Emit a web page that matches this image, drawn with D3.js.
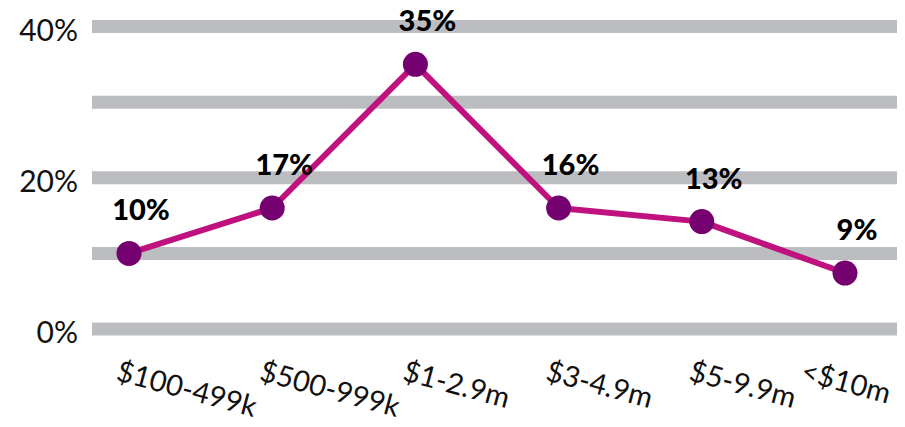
<!DOCTYPE html>
<html>
<head>
<meta charset="utf-8">
<script src="https://cdn.jsdelivr.net/npm/d3@7"></script>
<style>
  body { margin: 0; background: #fff; }
  svg { font-family: Lato, "Open Sans", sans-serif; }
</style>
</head>
<body>
<svg id="chart" width="905" height="427"></svg>
<script>
const categories = ["$100-499k", "$500-999k", "$1-2.9m", "$3-4.9m", "$5-9.9m", "<$10m"];
const values = [10, 16, 35, 16, 14.2, 7.4];
const valueLabels = ["10%", "17%", "35%", "16%", "13%", "9%"];
const gridTicks = [0, 10, 20, 30, 40];
const axisTicks = [0, 20, 40];

const svg = d3.select("#chart");

const x = d3.scalePoint()
    .domain(categories)
    .range([129, 845]);

const y = d3.scaleLinear()
    .domain([0, 40])
    .range([329, 26.5]);

// grey bands
svg.append("g")
    .selectAll("line")
    .data(gridTicks)
    .enter().append("line")
    .attr("x1", 92)
    .attr("x2", 897)
    .attr("y1", d => y(d))
    .attr("y2", d => y(d))
    .attr("stroke", "#bcbdc0")
    .attr("stroke-width", 13);

// y labels
svg.append("g")
    .selectAll("text")
    .data(axisTicks)
    .enter().append("text")
    .attr("x", 78)
    .attr("y", d => y(d) + 14)
    .attr("text-anchor", "end")
    .attr("font-size", "30px")
    .attr("fill", "#111")
    .text(d => d + "%");

const points = categories.map((c, i) => ({ cat: c, v: values[i], label: valueLabels[i] }));

const line = d3.line()
    .x(d => x(d.cat))
    .y(d => y(d.v));

svg.append("path")
    .datum(points)
    .attr("d", line)
    .attr("fill", "none")
    .attr("stroke", "#c0127e")
    .attr("stroke-width", 6)
    .attr("stroke-linejoin", "round");

svg.append("g")
    .selectAll("circle")
    .data(points)
    .enter().append("circle")
    .attr("cx", d => x(d.cat))
    .attr("cy", d => y(d.v))
    .attr("r", 12.5)
    .attr("fill", "#750070");

// value labels
svg.append("g")
    .selectAll("text")
    .data(points)
    .enter().append("text")
    .attr("x", d => x(d.cat) + 12)
    .attr("y", d => y(d.v) - 33)
    .attr("text-anchor", "middle")
    .attr("font-size", "29px")
    .attr("font-weight", "900")
    .attr("fill", "#000")
    .text(d => d.label);

// x labels, tilted; pull any label back inside the frame
const angle = 15;
const svgLeft = svg.node().getBoundingClientRect().left;
svg.append("g")
    .selectAll("text")
    .data(categories)
    .enter().append("text")
    .attr("text-anchor", "start")
    .attr("font-size", "29px")
    .attr("fill", "#111")
    .text(d => d)
    .each(function(d) {
        const el = d3.select(this);
        let x0 = x(d) - 14;
        el.attr("transform", `translate(${x0}, 380) rotate(${angle})`);
        const right = this.getBoundingClientRect().right - svgLeft;
        if (right > 895) {
            x0 -= right - 895;
            el.attr("transform", `translate(${x0}, 380) rotate(${angle})`);
        }
    });
</script>
</body>
</html>
